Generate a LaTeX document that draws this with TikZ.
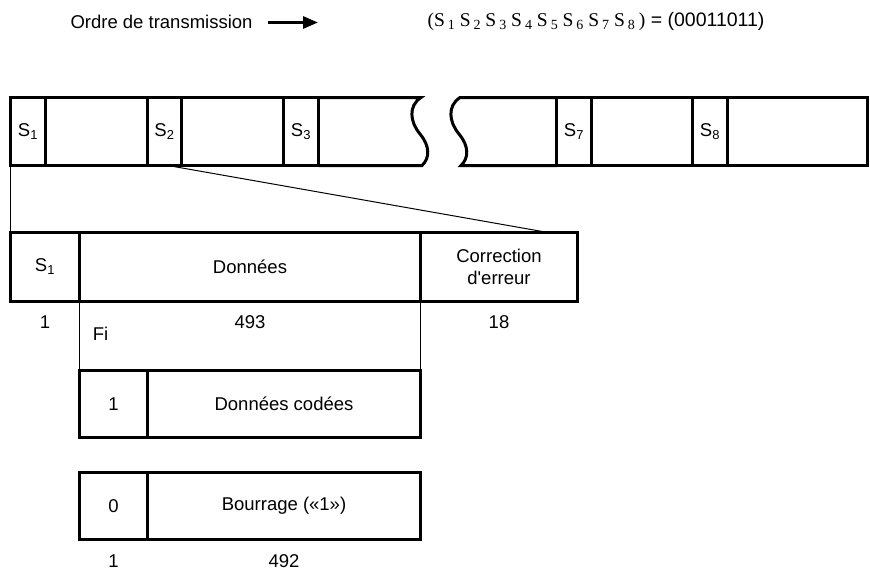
\documentclass[tikz,border=0pt]{standalone}
\usepackage{fontspec}
\setmainfont{Liberation Sans}
\newfontfamily\tnr{Liberation Serif}
\usetikzlibrary{arrows.meta}

\newcommand{\idx}[1]{\kern3pt\raisebox{-3pt}{\fontsize{14}{14}\selectfont #1}}

\tikzset{
	cell/.style={draw, line width=3pt, inner sep=0pt, outer sep=0pt},
	thinlink/.style={line width=1pt},
}

\begin{document}
\begin{tikzpicture}[x=1pt, y=-1pt, font=\fontsize{18.5}{22}\selectfont]
			\useasboundingbox (0,0) rectangle (870,579);
			\node[anchor=west] (ordre) at (67,22) {Ordre de transmission};
			\coordinate (fA) at (268,22.5);
			\coordinate (fB) at (318,22.5);
			\draw[line width=3pt, -{Triangle[length=15pt,width=12pt]}] (fA) -- (fB);
			\node[anchor=west, font=\fontsize{19.5}{24}\selectfont] (seq) at (424,22) {{\tnr (S\idx{1} S\idx{2} S\idx{3} S\idx{4} S\idx{5} S\idx{6} S\idx{7} S\idx{8}\kern4pt)} = (00011011)};
			% trame
			\node[cell, minimum width=35pt, minimum height=68pt] (S1) at (28,131.5) {S\textsubscript{1}};
			\node[cell, minimum width=102pt, minimum height=68pt] (D1) at (96.5,131.5) {};
			\node[cell, minimum width=34pt, minimum height=68pt] (S2) at (164.5,131.5) {S\textsubscript{2}};
			\node[cell, minimum width=102pt, minimum height=68pt] (D2) at (232.5,131.5) {};
			\node[cell, minimum width=35pt, minimum height=68pt] (S3) at (301,131.5) {S\textsubscript{3}};
			\draw[line width=3pt] (S3.north east) -- (421,97.5) .. controls (408,106) and (410,122) .. (420,134) .. controls (430,146) and (430,158) .. (422,165.5) -- (S3.south east);
			\node[cell, minimum width=35pt, minimum height=68pt] (S7) at (574,131.5) {S\textsubscript{7}};
			\draw[line width=3pt] (S7.north west) -- (460,97.5) .. controls (447,106) and (449,122) .. (459,134) .. controls (469,146) and (469,158) .. (461,165.5) -- (S7.south west);
			\node[cell, minimum width=101pt, minimum height=68pt] (D7) at (642,131.5) {};
			\node[cell, minimum width=35pt, minimum height=68pt] (S8) at (710,131.5) {S\textsubscript{8}};
			\node[cell, minimum width=140pt, minimum height=68pt] (D8) at (797.5,131.5) {};
			% secteur
			\node[cell, minimum width=69pt, minimum height=69pt] (T1) at (45,267) {S\textsubscript{1}};
			\node[cell, minimum width=341pt, minimum height=69pt] (Tdon) at (250,267) {Données};
			\node[cell, minimum width=157pt, minimum height=69pt, align=center] (Tcor) at (499,267) {Correction\\d\textquotesingle erreur};
			\draw (45,322) node (n1){1};
			\draw (250,322) node (n493){493};
			\draw (499,322) node (n18){18};
			\draw (100.5,334) node (nFi){Fi};
			\coordinate (zA) at (168,165.5);
			\coordinate (zB) at (548,232.5);
			\draw[thinlink] (S1.south west) -- (T1.north west);
			\draw[thinlink] (zA) -- (zB);
			% Fi
			\node[cell, minimum width=68pt, minimum height=67pt] (F1) at (113.5,404) {1};
			\node[cell, minimum width=273pt, minimum height=67pt] (Fcod) at (284,404) {Données codées};
			\node[cell, minimum width=68pt, minimum height=67pt] (F0) at (113.5,506) {0};
			\node[cell, minimum width=273pt, minimum height=67pt] (Fbour) at (284,506) {Bourrage («1»)};
			\draw[thinlink] (Tdon.south west) -- (F1.north west);
			\draw[thinlink] (Tdon.south east) -- (Fcod.north east);
			\draw (113.5,561) node (m1){1};
			\draw (284,561) node (m492){492};
		\end{tikzpicture}
\end{document}
